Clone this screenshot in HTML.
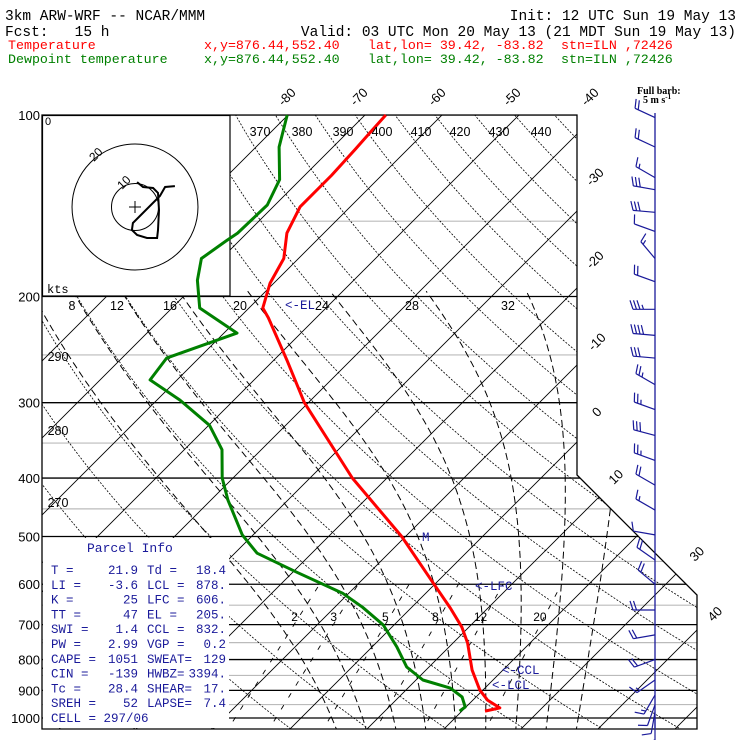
<!DOCTYPE html>
<html><head><meta charset="utf-8">
<style>
html,body{margin:0;padding:0;background:#fff;}
svg{display:block;}
.mono{font-family:"Liberation Mono",monospace;}
</style></head>
<body>
<svg id="chart" width="740" height="740" viewBox="0 0 740 740" xmlns="http://www.w3.org/2000/svg">
<rect x="0" y="0" width="740" height="740" fill="#fff"/>
<defs>
<clipPath id="plotclip"><polygon points="42,115 577,115 577,475 697,595 697,729 42,729"/></clipPath>
</defs>
<g id="bg" clip-path="url(#plotclip)"></g>
<g id="boxes"></g>
<g id="profiles"></g>
<g id="labels"></g>
<g id="winds"></g>

<!-- header text -->
<g class="mono" font-size="14.5" fill="#000">
<text x="5" y="20">3km ARW-WRF -- NCAR/MMM</text>
<text x="736" y="20" text-anchor="end">Init: 12 UTC Sun 19 May 13</text>
<text x="5" y="36" xml:space="preserve">Fcst:   15 h</text>
<text x="736" y="36" text-anchor="end">Valid: 03 UTC Mon 20 May 13 (21 MDT Sun 19 May 13)</text>
</g>
<g class="mono" font-size="13.3" fill="#ff0000">
<text x="8" y="49">Temperature</text>
<text x="204" y="49">x,y=876.44,552.40</text>
<text x="368" y="49">lat,lon= 39.42, -83.82</text>
<text x="561" y="49">stn=ILN ,72426</text>
</g>
<g class="mono" font-size="13.3" fill="#008000">
<text x="8" y="63">Dewpoint temperature</text>
<text x="204" y="63">x,y=876.44,552.40</text>
<text x="368" y="63">lat,lon= 39.42, -83.82</text>
<text x="561" y="63">stn=ILN ,72426</text>
</g>
<g font-family="Liberation Serif, serif" font-weight="bold" font-size="10" fill="#000">
<text x="637" y="94">Full barb:</text>
<text x="643" y="103">5 m s<tspan font-size="7" dy="-4">-1</tspan></text>
</g>
</svg>
<script>
// ---------- data ----------
const tempP=[100,106,114,126,142,157,173,190,209,217,255,300,400,500,600,657,707,751,833,899,934,962,974];
const tempC=[-67.3,-67.1,-66.8,-66.5,-66.5,-64.8,-61.9,-60.5,-58.2,-56.2,-48.3,-40.5,-24.5,-10.5,-0.1,5.1,9.1,11.9,16.0,19.6,21.9,24.5,23.0];
const dewP=[100,113,128,141,157,162,173,188,209,230,253,275,297,327,359,400,435,497,533,573,621,655,701,762,823,865,892,923,959,974];
const dewC=[-80.1,-77.0,-72.7,-71.0,-71.2,-71.7,-72.6,-70.3,-66.4,-58.3,-64.2,-63.5,-57.0,-49.9,-45.1,-41.4,-37.8,-31.4,-27.1,-19.5,-10.8,-6.4,-1.4,3.2,7.1,10.9,15.5,18.2,19.9,19.7];
const windP=[101,113,127,133,145,156,173,189,210,232,253,280,308,340,374,411,452,497,547,600,662,728,800,865,916,951,977,1000];
const windDir=[295,295,300,280,275,290,320,290,270,275,275,300,290,285,290,300,300,280,305,310,270,260,250,235,210,200,190,180];
const windSpd=[10,10,7.5,15,15,5,7.5,10,17.5,20,15,12.5,12.5,15,12.5,10,7.5,5,10,10,10,10,10,7.5,7.5,5,5,5];
const hodoU=[17,12.8,10.6,-0.9,-1.3,0.9,5.1,9.4,9.8,10.2,9.8,7.7,3.4,0.9];
const hodoV=[8.9,8.5,4.7,-6.8,-9.8,-11.9,-13.2,-13.2,-9.8,-1.3,6.0,8.1,8.5,10.6];
const pLevels=[100,200,300,400,500,600,700,800,900,1000];
const pMinor=[150,250,350,450,550,650,750,850,950];
const isoTemps=[-120,-110,-100,-90,-80,-70,-60,-50,-40,-30,-20,-10,0,10,20,30,40,50];
const thetas=[250,260,270,280,290,300,310,320,330,340,350,360,370,380,390,400,410,420,430,440,450,460,470];
const thetaW=[4,8,12,16,20,24,28,32,36];
const mixRatios=[2,3,5,8,12,20];

// ---------- axes ----------
const NS="http://www.w3.org/2000/svg";
function yP(p){return 718-603*(3-Math.log10(p));}
function xT(T,p){return 455+7.7*(T-20)+(718-yP(p));}
function mk(tag,attrs,parent){const e=document.createElementNS(NS,tag);for(const k in attrs)e.setAttribute(k,attrs[k]);parent.appendChild(e);return e;}
const bg=document.getElementById('bg');
const boxes=document.getElementById('boxes');
const prof=document.getElementById('profiles');
const lab=document.getElementById('labels');
const winds=document.getElementById('winds');

// gray minor isobars
pMinor.forEach(p=>{const l=mk('line',{x1:42,x2:700,y1:yP(p),y2:yP(p),stroke:'#bbbbbb','stroke-width':1.2},bg);

});
// isotherms
isoTemps.forEach(T=>{const l=mk('line',{x1:xT(T,1060),y1:yP(1060),x2:xT(T,95),y2:yP(95),stroke:'#000','stroke-width':0.9},bg);

});
// dry adiabats
thetas.forEach(th=>{let d='';for(let p=1060;p>=95;p-=5){const T=th*Math.pow(p/1000,0.286)-273.15;d+=(d?'L':'M')+xT(T,p).toFixed(1)+','+yP(p).toFixed(1);}
const e=mk('path',{d:d,fill:'none',stroke:'#000','stroke-width':0.8,'stroke-dasharray':'2,1.5'},bg);

});
// moist adiabats
function es(Tc){return 6.112*Math.exp(17.67*Tc/(Tc+243.5));}
thetaW.forEach(tw=>{let T=tw+273.15;let d='';
 // go down first to 1060
 let pts=[];let Tk=T;
 for(let p=1000;p>=195;p-=2){pts.push([p,Tk]);const e=es(Tk-273.15);const rs=0.622*e/(p-e);
  const num=287*Tk+2.5e6*rs;const den=1004+2.5e6*2.5e6*rs*0.622/(287*Tk*Tk);const dTdp=num/(den*p);Tk-=dTdp*2;}
 let Tb=T;let down=[];for(let p=1000;p<=1060;p+=2){down.push([p,Tb]);const e=es(Tb-273.15);const rs=0.622*e/(p-e);
  const num=287*Tb+2.5e6*rs;const den=1004+2.5e6*2.5e6*rs*0.622/(287*Tb*Tb);Tb+=num/(den*p)*2;}
 pts=down.reverse().concat(pts);
 pts.forEach(q=>{d+=(d?'L':'M')+xT(q[1]-273.15,q[0]).toFixed(1)+','+yP(q[0]).toFixed(1);});
 const e=mk('path',{d:d,fill:'none',stroke:'#000','stroke-width':1,'stroke-dasharray':'7,4'},bg);
 
 });
// mixing ratio lines
function tdFromW(w,p){const e=w*p/(622+w);const l=Math.log(e/6.112);return 243.5*l/(17.67-l);}
mixRatios.forEach(w=>{const e=mk('line',{x1:xT(tdFromW(w,1060),1060),y1:yP(1060),x2:xT(tdFromW(w,600),600),y2:yP(600),stroke:'#000','stroke-width':0.9,'stroke-dasharray':'5,9'},bg);


const t=mk('text',{x:xT(tdFromW(w,680),680)-4,y:621,'font-family':'Liberation Sans, sans-serif','font-size':12,'text-anchor':'middle',fill:'#000'},lab);t.textContent=w;

});
// major isobars
pLevels.forEach(p=>{const l=mk('line',{x1:42,x2:700,y1:yP(p),y2:yP(p),stroke:'#000','stroke-width':1.3},bg);


const t=mk('text',{x:40,y:yP(p)+5,'font-family':'Liberation Sans, sans-serif','font-size':13,'text-anchor':'end',fill:'#000'},lab);t.textContent=p;

});

// white boxes: hodograph and parcel info
const hb=mk('rect',{x:42.5,y:115.5,width:187.5,height:180.5,fill:'#fff',stroke:'#000','stroke-width':1.2},boxes);


const pb=mk('rect',{x:43,y:538,width:186,height:190,fill:'#fff'},boxes);


// plot border
const border=mk('polygon',{points:'42,115 577,115 577,475 697,595 697,729 42,729',fill:'none',stroke:'#000','stroke-width':1.3},boxes);



// hodograph
const hcx=135,hcy=207,hs=2.35;
[10,20].forEach(r=>{const c=mk('circle',{cx:hcx,cy:hcy,r:r*hs*(r==20?1.34:1),fill:'none',stroke:'#000','stroke-width':1},boxes);

});
mk('line',{x1:hcx-6,x2:hcx+6,y1:hcy,y2:hcy,stroke:'#000'},boxes);
mk('line',{x1:hcx,x2:hcx,y1:hcy-6,y2:hcy+6,stroke:'#000'},boxes);
let hd='';hodoU.forEach((u,i)=>{hd+=(i?'L':'M')+(hcx+u*hs).toFixed(1)+','+(hcy-hodoV[i]*hs).toFixed(1);});
const hp=mk('path',{d:hd,fill:'none',stroke:'#000','stroke-width':2},boxes);


[['10',122,190],['20',94,162]].forEach(a=>{const t=mk('text',{x:a[1],y:a[2],'font-family':'Liberation Sans, sans-serif','font-size':12,fill:'#000',transform:'rotate(-45 '+a[1]+' '+a[2]+')'},boxes);t.textContent=a[0];

});
const z=mk('text',{x:45,y:125,'font-family':'Liberation Sans, sans-serif','font-size':11,fill:'#000'},boxes);z.textContent='0';
const kts=mk('text',{x:47,y:293,'font-family':'Liberation Mono, monospace','font-size':12,fill:'#000'},boxes);kts.textContent='kts';



// profiles
function line(P,V,color,name){let d='';P.forEach((p,i)=>{d+=(i?'L':'M')+xT(V[i],p).toFixed(1)+','+yP(p).toFixed(1);});
 const e=mk('path',{d:d,fill:'none',stroke:color,'stroke-width':3,'stroke-linejoin':'round'},prof);
 
 }
line(dewP,dewC,'#008000','dewpoint-profile');
line(tempP,tempC,'#ff0000','temperature-profile');

// labels
const sans='Liberation Sans, sans-serif';
[['-80',290,100],['-70',362,100],['-60',440,100],['-50',515,100],['-40',593,100],
 ['-30',598,180],['-20',598,263],['-10',600,345],['0',600,415],['10',619,480],['30',700,557],['40',718,617]].forEach(a=>{
 const t=mk('text',{x:a[1],y:a[2],'font-family':sans,'font-size':13,'text-anchor':'middle',fill:'#000',transform:'rotate(-45 '+a[1]+' '+a[2]+')'},lab);t.textContent=a[0];
 
 });
[['370',260],['380',302],['390',343],['400',382],['410',421],['420',460],['430',499],['440',541]].forEach(a=>{
 const t=mk('text',{x:a[1],y:136,'font-family':sans,'font-size':12.5,'text-anchor':'middle',fill:'#000'},lab);t.textContent=a[0];
 
 });
[['290',58,361],['280',58,435],['270',58,507]].forEach(a=>{
 const t=mk('text',{x:a[1],y:a[2],'font-family':sans,'font-size':12.5,'text-anchor':'middle',fill:'#000'},lab);t.textContent=a[0];
 
 });
[['8',72],['12',117],['16',170],['20',240],['24',322],['28',412],['32',508]].forEach(a=>{
 const t=mk('text',{x:a[1],y:310,'font-family':sans,'font-size':12.5,'text-anchor':'middle',fill:'#000'},lab);t.textContent=a[0];
 
 });
[['<-EL',285,309],['<-LFC',475,590],['<-CCL',502,674],['<-LCL',492,689],['M',422,541]].forEach(a=>{
 const t=mk('text',{x:a[1],y:a[2],'font-family':'Liberation Mono, monospace','font-size':12.5,fill:'#1a1a9a'},lab);t.textContent=a[0];
 
 });

// parcel info
const pf='Liberation Mono, monospace';
const pt=mk('text',{x:87,y:552,'font-family':pf,'font-size':13,fill:'#1a1a9a'},lab);pt.textContent='Parcel Info';


const c1=['T  =','LI =','K  =','TT =','SWI =','PW =','CAPE =','CIN =','Tc =','SREH ='];
const v1=['21.9','-3.6','25','47','1.4','2.99','1051','-139','28.4','52'];
const c2=['Td =','LCL =','LFC =','EL  =','CCL =','VGP =','SWEAT=','HWBZ=','SHEAR=','LAPSE='];
const v2=['18.4','878.','606.','205.','832.','0.2','129','3394.','17.','7.4'];
c1.forEach((s,i)=>{const y=574+i*14.8;
 let t=mk('text',{x:51,y:y,'font-family':pf,'font-size':12.5,fill:'#1a1a9a','xml:space':'preserve'},lab);t.textContent=s;
 
 
 t=mk('text',{x:138,y:y,'font-family':pf,'font-size':12.5,fill:'#1a1a9a','text-anchor':'end'},lab);t.textContent=v1[i];
 
 
 t=mk('text',{x:147,y:y,'font-family':pf,'font-size':12.5,fill:'#1a1a9a','xml:space':'preserve'},lab);t.textContent=c2[i];
 
 
 t=mk('text',{x:226,y:y,'font-family':pf,'font-size':12.5,fill:'#1a1a9a','text-anchor':'end'},lab);t.textContent=v2[i];
 
 });
const cell=mk('text',{x:51,y:574+10*14.8,'font-family':pf,'font-size':12.5,fill:'#1a1a9a'},lab);cell.textContent='CELL = 297/06';



// wind barbs
const staff=mk('line',{x1:655,x2:655,y1:113,y2:728,stroke:'#1a1a9a','stroke-width':1.3},winds);


windP.forEach((p,i)=>{const y=yP(p);const d=windDir[i]*Math.PI/180;const sx=Math.sin(d),sy=-Math.cos(d);const L=22;
 const px=-sy,py=sx;const g=mk('g',{stroke:'#1a1a9a','stroke-width':1.2,fill:'none'},winds);
 
 
 mk('line',{x1:655,y1:y,x2:655+sx*L,y2:y+sy*L},g);
 let n=Math.floor(windSpd[i]/5);const half=(windSpd[i]-n*5)>=2.5;let k=0;
 for(let j=0;j<n;j++,k++){const bx=655+sx*(L-k*3.5),by=y+sy*(L-k*3.5);mk('line',{x1:bx,y1:by,x2:bx+px*9+sx*3,y2:by+py*9+sy*3},g);}
 if(half){const bx=655+sx*(L-k*3.5),by=y+sy*(L-k*3.5);mk('line',{x1:bx,y1:by,x2:bx+px*4.5+sx*1.5,y2:by+py*4.5+sy*1.5},g);}
});
</script>
</body></html>
